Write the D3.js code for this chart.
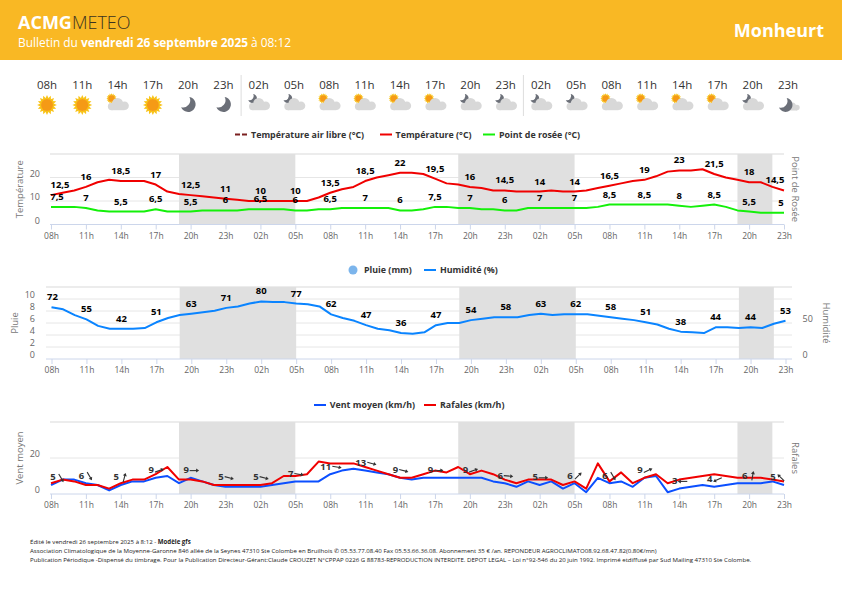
<!DOCTYPE html>
<html>
<head>
<meta charset="utf-8">
<script src="https://d3js.org/d3.v7.min.js"></script>
<style>
    html, body { margin: 0; padding: 0; background: #fff; }
    svg { display: block; font-family: "Open Sans", sans-serif; }
</style>
</head>
<body>
<div class="canvas"></div>
<script>
// one label every 3 hours, one data point every hour
const hourLabels = ['08h','11h','14h','17h','20h','23h','02h','05h','08h','11h','14h','17h','20h','23h','02h','05h','08h','11h','14h','17h','20h','23h']
const icons = ['sun','sun','daycloud','sun','moon','moon','nightcloud','nightcloud','daycloud','daycloud','daycloud','daycloud','nightcloud','nightcloud','nightcloud','nightcloud','daycloud','daycloud','daycloud','daycloud','nightcloud','nightcrescent']

const temperature = [12.5,13.5,14.5,16,18,19,18.5,18.5,18.5,17,14,13,12.5,12,11.5,11,10.5,10,10,10,10,10,10,11.5,13.5,15,16,18.5,20,21,22,22,21.5,19.5,17.5,17,16,15.5,14.5,14.5,14,14,14,14.5,14,14,14.5,15.5,16.5,17.5,18.5,19,20.5,22.5,23,23,23.5,21.5,20,19,18,18,16,14.5]
const dewPoint = [7.5,7.5,7.5,7,6,5.5,5.5,5.5,5.5,6.5,5.5,5.5,5.5,6,6,6,6,6.5,6.5,6.5,6.5,6,6,6.5,6.5,7,7,7,7,7,6,6,6.5,7.5,7.5,7,7,6.5,6.5,6,6,7,7,7,7,7,7,7.5,8.5,8.5,8.5,8.5,8.5,8.5,8,7.5,8,8.5,7.5,6,5.5,5,5,5]
const humidity = [72,69,61,55,46,42,42,42,43,51,57,61,63,65,67,71,73,77,80,79,79,77,76,73,62,57,53,47,42,40,36,35,37,47,50,50,54,56,58,58,58,61,63,61,62,62,62,60,58,56,54,51,48,42,38,37,36,44,44,43,44,43,49,53]
const windMean = [5,8,8,6,5,2,5,7,7,9,10,6,9,7,5,4,4,4,4,5,6,7,7,7,11,13,14,13,12,11,9,8,9,9,9,9,9,9,7,6,4,7,5,7,3,6,1,9,6,7,4,9,10,1,3,4,5,4,5,6,6,6,7,5]
const windGust = [6,8,7,5,5,3,6,8,8,11,15,8,8,7,5,5,5,5,5,6,10,10,11,18,17,17,17,15,13,11,9,9,11,13,12,15,11,13,11,8,6,8,8,8,5,7,3,17,7,12,6,9,11,6,8,9,10,11,10,9,9,9,8,7]

// labels shown every 3 hours
const tempLabels = ['12,5','16','18,5','17','12,5','11','10','10','13,5','18,5','22','19,5','16','14,5','14','14','16,5','19','23','21,5','18','14,5']
const dewLabels = ['7,5','7','5,5','6,5','5,5','6','6,5','6','6,5','7','6','7,5','7','6','7','7','8,5','8,5','8','8,5','5,5','5']
const humidityLabels = ['72','55','42','51','63','71','80','77','62','47','36','47','54','58','63','62','58','51','38','44','44','53']
const windLabels = ['5','6','5','9','9','5','5','7','11','13','9','9','9','6','5','6','6','9','3','4','6','5']
const windDirs = [60,60,-75,-20,0,15,15,10,10,15,15,-5,-20,5,0,-45,60,-25,180,155,-80,-135]

// night bands, hour index from start
const nights = [[11,21],[35,45],[59,62]]

const dims = { width: 842, height: 595 }

const svg = d3.select('.canvas')
    .append('svg')
    .attr('width', dims.width)
    .attr('height', dims.height)

// header
svg.append('rect').attr('width', dims.width).attr('height', 60).attr('fill', '#f9b824')
const logo = svg.append('text').attr('x', 18).attr('y', 28.5).attr('font-size', 18)
logo.append('tspan').attr('font-weight', 700).attr('fill', '#fff').text('ACMG')
logo.append('tspan').attr('font-weight', 300).attr('fill', '#3b3320').text('METEO')
const bulletin = svg.append('text').attr('x', 18).attr('y', 47).attr('font-size', 11.9).attr('fill', '#fff')
bulletin.append('tspan').text('Bulletin du ')
bulletin.append('tspan').attr('font-weight', 700).text('vendredi 26 septembre 2025')
bulletin.append('tspan').text(' à 08:12')
svg.append('text').attr('x', 824).attr('y', 37).attr('text-anchor', 'end')
    .attr('font-size', 18).attr('font-weight', 700).attr('fill', '#fff').text('Monheurt')

// forecast strip
const stripX = d3.scalePoint().domain(d3.range(hourLabels.length)).range([47, 788])

svg.append('g').selectAll('line')
    .data([6, 14])
    .enter().append('line')
    .attr('x1', d => stripX(d) - 17.6).attr('x2', d => stripX(d) - 17.6)
    .attr('y1', 75).attr('y2', 116)
    .attr('stroke', '#ddd')

svg.append('g').selectAll('text')
    .data(hourLabels)
    .enter().append('text')
    .attr('x', (d, i) => stripX(i))
    .attr('y', 89)
    .attr('text-anchor', 'middle')
    .attr('font-size', 11.5)
    .attr('fill', '#333')
    .text(d => d)

const drawSun = (g, cx, cy, r) => {
    g.append('g').selectAll('path')
        .data(d3.range(16))
        .enter().append('path')
        .attr('d', `M${-r * 0.35},${-r * 0.9} L0,${-r * 1.65} L${r * 0.35},${-r * 0.9} Z`)
        .attr('transform', d => `translate(${cx},${cy}) rotate(${d * 22.5})`)
        .attr('fill', '#f8c318')
    g.append('circle').attr('cx', cx).attr('cy', cy).attr('r', r).attr('fill', '#f59a16')
}
const drawMoon = (g, cx, cy, r, fill) => {
    g.append('path')
        .attr('d', `M${cx + r * 0.1},${cy - r} A${r},${r} 0 1 1 ${cx - r},${cy + r * 0.35} A${r * 0.95},${r * 0.95} 0 0 0 ${cx + r * 0.1},${cy - r} Z`)
        .attr('fill', fill)
}
const drawCloud = (g, cx, cy, s) => {
    const c = g.append('g').attr('transform', `translate(${cx},${cy}) scale(${s})`).attr('fill', '#d8d8d8')
    c.append('circle').attr('cx', -7).attr('cy', 2.5).attr('r', 3.7)
    c.append('circle').attr('cx', -1).attr('cy', -0.5).attr('r', 5.5)
    c.append('circle').attr('cx', 6).attr('cy', 1.7).attr('r', 4.3)
    c.append('rect').attr('x', -7).attr('y', 1).attr('width', 13).attr('height', 5.2)
}

const iconsG = svg.append('g')
icons.forEach((kind, i) => {
    const cx = stripX(i)
    const g = iconsG.append('g')
    if (kind === 'sun') {
        drawSun(g, cx, 105, 6)
    } else if (kind === 'moon') {
        drawMoon(g, cx + 0.5, 104.5, 7.5, '#6b6f78')
    } else if (kind === 'daycloud') {
        drawSun(g, cx - 6, 98.5, 3.2)
        drawCloud(g, cx + 1, 104, 1)
    } else if (kind === 'nightcloud') {
        drawMoon(g, cx - 6, 98.5, 4.5, '#6b6f78')
        drawCloud(g, cx + 1, 104, 1)
    } else {
        drawCloud(g, cx + 5, 106.5, 0.65)
        drawMoon(g, cx - 2, 105, 7, '#6b6f78')
    }
})

const x = d3.scaleLinear().domain([0, 63]).range([51, 784])
const xRain = d3.scaleLinear().domain([0, 63]).range([51.5, 785.5])
const tickHours = d3.range(0, 64, 3)

const styleTicks = (sel, size) => sel.selectAll('text')
    .attr('font-size', size)
    .attr('fill', '#666')
    .attr('font-family', '"Open Sans", sans-serif')

// common frame for the three panels
const drawFrame = (opts) => {
    const { top, bottom, xs, gridLeft, gridRight, yEdge, leftTitle, leftTitleX, rightTitle, rightTitleX, leftDomain, leftTicks, rightDomain, rightTicks, gridValues } = opts
    const y = d3.scaleLinear().domain(leftDomain).range([bottom, top])
    const g = svg.append('g')

    g.selectAll('.grid')
        .data(gridValues)
        .enter().append('line')
        .attr('x1', gridLeft).attr('x2', gridRight)
        .attr('y1', d => y(d)).attr('y2', d => y(d))
        .attr('stroke', '#e6e6e6')
        .attr('stroke-width', d => d === leftDomain[1] ? 1.5 : 1)

    g.selectAll('.night')
        .data(nights)
        .enter().append('rect')
        .attr('x', d => xs(d[0]))
        .attr('width', d => xs(d[1]) - xs(d[0]))
        .attr('y', top)
        .attr('height', bottom - top)
        .attr('fill', '#e0e0e0')

    const xAxis = d3.axisBottom(xs)
        .tickValues(tickHours)
        .tickSize(5)
        .tickPadding(3)
        .tickFormat((d, i) => hourLabels[i])
    const xg = g.append('g').attr('transform', `translate(0, ${bottom})`).call(xAxis)
    xg.select('.domain').attr('stroke', '#ccd6eb').attr('d', `M${gridLeft},0H${gridRight}`)
    xg.selectAll('line').attr('stroke', '#ccd6eb')
    styleTicks(xg, 8.5)

    const yAxis = d3.axisLeft(y).tickValues(leftTicks).tickSize(0).tickPadding(0)
    const yg = g.append('g').attr('transform', `translate(${yEdge}, -4)`).call(yAxis)
    yg.select('.domain').remove()
    styleTicks(yg, 9)

    if (rightDomain) {
        const yR = d3.scaleLinear().domain(rightDomain).range([bottom, top])
        const axisR = d3.axisRight(yR).tickValues(rightTicks).tickSize(0).tickPadding(0)
        const rg = g.append('g').attr('transform', `translate(802.5, -4)`).call(axisR)
        rg.select('.domain').remove()
        styleTicks(rg, 9)
    }

    const mid = (top + bottom) / 2
    g.append('text')
        .attr('transform', `translate(${leftTitleX}, ${mid}) rotate(-90)`)
        .attr('text-anchor', 'middle').attr('font-size', 9.5).attr('fill', '#777').text(leftTitle)
    g.append('text')
        .attr('transform', `translate(${rightTitleX}, ${mid}) rotate(90)`)
        .attr('text-anchor', 'middle').attr('font-size', 9.5).attr('fill', '#777').text(rightTitle)

    return y
}

const drawLine = (xs, y, values, color) => {
    const line = d3.line().x((d, i) => xs(i)).y(d => y(d))
    svg.append('path')
        .datum(values)
        .attr('fill', 'none')
        .attr('stroke', color)
        .attr('stroke-width', 2)
        .attr('stroke-linejoin', 'round')
        .attr('d', line)
}

// first and last labels get nudged inside the plot
const drawLabels = (xs, labels, values, y, firstOff, lastOff) => {
    svg.append('g').selectAll('text')
        .data(labels)
        .enter().append('text')
        .attr('x', (d, i) => xs(i * 3) + (i === 0 ? firstOff : i === labels.length - 1 ? lastOff : 0))
        .attr('y', (d, i) => y(values[i * 3]) - 7)
        .attr('text-anchor', 'middle')
        .attr('font-size', 9.5)
        .attr('font-weight', 700)
        .attr('fill', '#000')
        .text(d => d)
}

const drawLegend = (y, items) => {
    const g = svg.append('g')
    items.forEach(item => {
        if (item.type === 'dot') {
            g.append('circle').attr('cx', item.x).attr('cy', y).attr('r', 4.5).attr('fill', item.color)
        } else {
            g.append('line').attr('x1', item.x).attr('x2', item.x + 12).attr('y1', y).attr('y2', y)
                .attr('stroke', item.color).attr('stroke-width', 2)
                .attr('stroke-dasharray', item.type === 'dash' ? '5 2' : null)
        }
        g.append('text').attr('x', item.textX).attr('y', y + 3)
            .attr('font-size', 8.9).attr('font-weight', 700).attr('fill', '#333').text(item.label)
    })
}

// temperature panel
drawLegend(134.5, [
    { x: 235, textX: 251, color: '#7b2020', type: 'dash', label: 'Température air libre (°C)' },
    { x: 380, textX: 395.5, color: '#f00000', type: 'line', label: 'Température (°C)' },
    { x: 483, textX: 499, color: '#14f00a', type: 'line', label: 'Point de rosée (°C)' }
])
const yTemp = drawFrame({
    top: 154, bottom: 224.5, xs: x, gridLeft: 50, gridRight: 784, yEdge: 40,
    leftTitle: 'Température', leftTitleX: 22.5, rightTitle: 'Point de Rosée', rightTitleX: 792,
    leftDomain: [0, 30], leftTicks: [0, 10, 20], gridValues: [10, 20, 30]
})
drawLine(x, yTemp, dewPoint, '#14f00a')
drawLine(x, yTemp, temperature, '#f00000')
drawLabels(x, tempLabels, temperature, yTemp, 9, -9)
drawLabels(x, dewLabels, dewPoint, yTemp, 6, -3)

// rain and humidity panel
drawLegend(270, [
    { x: 353, textX: 364, color: '#7cb5ec', type: 'dot', label: 'Pluie (mm)' },
    { x: 424, textX: 440, color: '#0a84ff', type: 'line', label: 'Humidité (%)' }
])
const yRain = drawFrame({
    top: 287, bottom: 359, xs: xRain, gridLeft: 46, gridRight: 792, yEdge: 35,
    leftTitle: 'Pluie', leftTitleX: 18, rightTitle: 'Humidité', rightTitleX: 823,
    leftDomain: [0, 12], leftTicks: [0, 2, 4, 6, 8, 10],
    rightDomain: [0, 100], rightTicks: [0, 50], gridValues: [2, 4, 6, 8, 10, 12]
})
const yHum = d3.scaleLinear().domain([0, 100]).range([359, 287])
drawLine(xRain, yHum, humidity, '#0a84ff')
drawLabels(xRain, humidityLabels, humidity, yHum, 1, 0)

// wind panel
drawLegend(405, [
    { x: 314, textX: 329.7, color: '#0b4fff', type: 'line', label: 'Vent moyen (km/h)' },
    { x: 424, textX: 440, color: '#f00000', type: 'line', label: 'Rafales (km/h)' }
])
const yWind = drawFrame({
    top: 422, bottom: 494, xs: x, gridLeft: 50, gridRight: 784, yEdge: 40,
    leftTitle: 'Vent moyen', leftTitleX: 22.5, rightTitle: 'Rafales', rightTitleX: 792,
    leftDomain: [0, 40], leftTicks: [0, 20], gridValues: [20, 40]
})
drawLine(x, yWind, windMean, '#0b4fff')
drawLine(x, yWind, windGust, '#f00000')

// wind value and direction arrow, placed from the value in the label
const windG = svg.append('g')
windLabels.forEach((d, i) => {
    const yPos = yWind(+d) - 4.7
    const lx = x(i * 3) + (i === 0 ? 2 : i === windLabels.length - 1 ? -11 : -4.5)
    windG.append('text').attr('x', lx).attr('y', yPos).attr('text-anchor', 'middle')
        .attr('font-size', 9.5).attr('font-weight', 700).attr('fill', '#333').text(d)
    const ax = windG.append('g')
        .attr('transform', `translate(${lx + (d.length > 1 ? 11 : 8)}, ${yPos - 2.5}) rotate(${windDirs[i]})`)
    ax.append('line').attr('x1', -4.5).attr('x2', 3).attr('stroke', '#333').attr('stroke-width', 1.1)
    ax.append('path').attr('d', 'M2,-2 L5,0 L2,2 Z').attr('fill', '#333')
})

// footer
const footer = svg.append('g').attr('font-size', 6.1).attr('fill', '#222')
const f1 = footer.append('text').attr('x', 30).attr('y', 544)
f1.append('tspan').text('Édité le vendredi 26 septembre 2025 à 8:12 - ')
f1.append('tspan').attr('font-weight', 700).text('Modèle gfs')
footer.append('text').attr('x', 30).attr('y', 553)
    .text('Association Climatologique de la Moyenne-Garonne 846 allée de la Seynes 47310 Ste Colombe en Bruilhois ✆ 05.53.77.08.40 Fax 05.53.66.36.08. Abonnement 35 € /an. REPONDEUR AGROCLIMATO08.92.68.47.82(0.80€/mn)')
footer.append('text').attr('x', 30).attr('y', 562)
    .text('Publication Périodique -Dispensé du timbrage. Pour la Publication Directeur-Gérant:Claude CROUZET N°CPPAP 0226 G 88783-REPRODUCTION INTERDITE. DEPOT LEGAL – Loi n°92-546 du 20 juin 1992. Imprimé etdiffusé par Sud Mailing 47310 Ste Colombe.')
</script>
</body>
</html>
